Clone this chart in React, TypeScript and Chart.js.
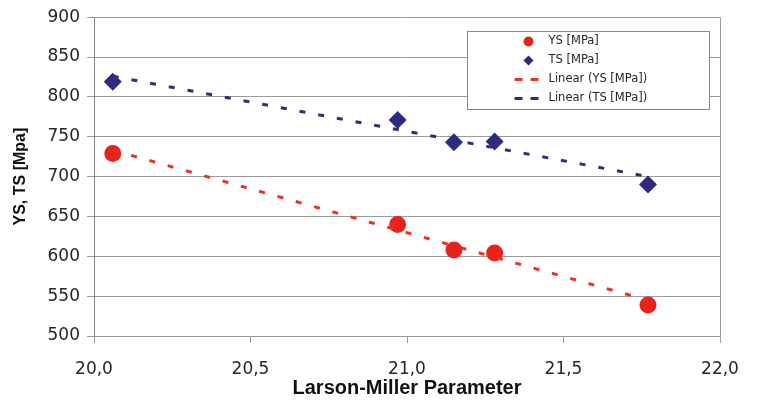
import React, { useEffect, useRef } from 'react';
import { Chart, registerables } from 'chart.js';

Chart.register(...registerables);

// Larson-Miller parameter of each test and the measured strengths
const lmpValues = [20.06, 20.97, 21.15, 21.28, 21.77];
const ysValues = [729, 640, 608, 604, 539];
const tsValues = [819, 771, 743, 744, 690];

// Linear trend lines (start / end of the fitted range)
const trendX = [20.06, 21.77];
const ysTrend = [733, 545];
const tsTrend = [826, 700];

const legendLabels = ['YS [MPa]', 'TS [MPa]', 'Linear (YS [MPa])', 'Linear (TS [MPa])'];
const xTitle = 'Larson-Miller Parameter';
const yTitle = 'YS, TS [Mpa]';

const RED = '#e8221d';
const NAVY = '#2c2b7d';
const RED_LINE = '#e6341f';
const NAVY_LINE = '#2f2e78';
const GRID = '#9c9c9c';
const TEXT = '#262626';

const toPoints = (xs: number[], ys: number[]) => xs.map((x, i) => ({ x, y: ys[i] }));

const framePlugin = {
  id: 'frameAndLegend',
  beforeDatasetsDraw(chart: any) {
    const { ctx, chartArea: a } = chart;
    ctx.save();
    ctx.strokeStyle = GRID;
    ctx.lineWidth = 1;
    ctx.beginPath();
    ctx.moveTo(Math.round(a.right) + 0.5, a.top);
    ctx.lineTo(Math.round(a.right) + 0.5, a.bottom);
    ctx.stroke();
    ctx.restore();
  },
  afterDraw(chart: any) {
    const { ctx, chartArea: a } = chart;
    const w = 242;
    const h = 78;
    const left = Math.round(a.right - 11 - w) + 0.5;
    const top = Math.round(a.top + 14) + 0.5;
    ctx.save();
    ctx.fillStyle = '#ffffff';
    ctx.fillRect(left, top, w, h);
    ctx.strokeStyle = '#8a8a8a';
    ctx.lineWidth = 1;
    ctx.strokeRect(left, top, w, h);

    const symX = left + 61;
    const textX = left + 81;
    const rows = [10, 29, 48, 67].map((d) => top + d);
    ctx.font = '11.5px "DejaVu Sans", sans-serif';
    ctx.textBaseline = 'middle';
    ctx.textAlign = 'left';

    // marker symbols
    ctx.fillStyle = RED;
    ctx.beginPath();
    ctx.arc(symX, rows[0], 5, 0, Math.PI * 2);
    ctx.fill();
    ctx.fillStyle = NAVY;
    ctx.beginPath();
    ctx.moveTo(symX - 5, rows[1]);
    ctx.lineTo(symX, rows[1] - 5);
    ctx.lineTo(symX + 5, rows[1]);
    ctx.lineTo(symX, rows[1] + 5);
    ctx.closePath();
    ctx.fill();

    // dashed line symbols
    ctx.lineWidth = 3;
    [[RED_LINE, rows[2]], [NAVY_LINE, rows[3]]].forEach(([c, y]) => {
      ctx.strokeStyle = c as string;
      ctx.beginPath();
      ctx.moveTo(symX - 14, y as number);
      ctx.lineTo(symX - 6, y as number);
      ctx.moveTo(symX + 2, y as number);
      ctx.lineTo(symX + 10, y as number);
      ctx.stroke();
    });

    ctx.fillStyle = TEXT;
    legendLabels.forEach((t, i) => ctx.fillText(t, textX, rows[i]));
    ctx.restore();
  },
};

export default function App() {
  const canvasRef = useRef<HTMLCanvasElement | null>(null);

  useEffect(() => {
    const canvas = canvasRef.current;
    if (!canvas) return;
    const chart = new Chart(canvas, {
      type: 'scatter',
      data: {
        datasets: [
          {
            type: 'line',
            label: legendLabels[2],
            data: toPoints(trendX, ysTrend),
            borderColor: RED_LINE,
            borderWidth: 3,
            borderDash: [6, 13],
            pointRadius: 0,
            fill: false,
            order: 0,
          },
          {
            type: 'line',
            label: legendLabels[3],
            data: toPoints(trendX, tsTrend),
            borderColor: NAVY_LINE,
            borderWidth: 3,
            borderDash: [6, 13],
            pointRadius: 0,
            fill: false,
            order: 0,
          },
          {
            label: legendLabels[0],
            data: toPoints(lmpValues, ysValues),
            pointStyle: 'circle',
            pointRadius: 8.5,
            backgroundColor: RED,
            borderColor: RED,
            borderWidth: 0,
            order: 1,
          },
          {
            label: legendLabels[1],
            data: toPoints(lmpValues, tsValues),
            pointStyle: 'rectRot',
            pointRadius: 9,
            backgroundColor: NAVY,
            borderColor: NAVY,
            borderWidth: 0,
            order: 1,
          },
        ],
      },
      options: {
        responsive: false,
        animation: false,
        layout: { padding: { left: 0, right: 37, top: 16, bottom: 0 } },
        plugins: {
          legend: { display: false },
          tooltip: { enabled: false },
        },
        scales: {
          x: {
            type: 'linear',
            min: 20,
            max: 22,
            afterFit: (s: any) => {
              s.height = 71;
            },
            ticks: {
              stepSize: 0.5,
              color: TEXT,
              padding: 16,
              font: { family: '"DejaVu Sans", sans-serif', size: 17 },
              callback: (v: any) => Number(v).toFixed(1).replace('.', ','),
            },
            grid: {
              drawOnChartArea: false,
              drawTicks: true,
              tickLength: 7,
              color: GRID,
            },
            border: { color: GRID, width: 1 },
            title: {
              display: true,
              text: xTitle,
              color: '#111111',
              padding: { top: 0, bottom: 7 },
              font: { family: '"Liberation Sans", Arial, sans-serif', size: 20, weight: 'bold' },
            },
          },
          y: {
            type: 'linear',
            min: 500,
            max: 900,
            afterFit: (s: any) => {
              s.width = 94;
            },
            ticks: {
              stepSize: 50,
              color: TEXT,
              padding: 7,
              font: { family: '"DejaVu Sans", sans-serif', size: 17 },
            },
            grid: {
              color: GRID,
              lineWidth: 1,
              drawTicks: true,
              tickLength: 7,
            },
            border: { color: '#808080', width: 1 },
            title: {
              display: true,
              text: yTitle,
              color: '#111111',
              padding: { top: 11, bottom: 0 },
              font: { family: '"Liberation Sans", Arial, sans-serif', size: 16, weight: 'bold' },
            },
          },
        },
      },
      plugins: [framePlugin],
    } as any);
    return () => chart.destroy();
  }, []);

  return (
    <div style={{ position: 'absolute', left: 0, top: 0, width: 757, height: 407, background: '#ffffff' }}>
      <canvas ref={canvasRef} width={757} height={407} />
    </div>
  );
}
